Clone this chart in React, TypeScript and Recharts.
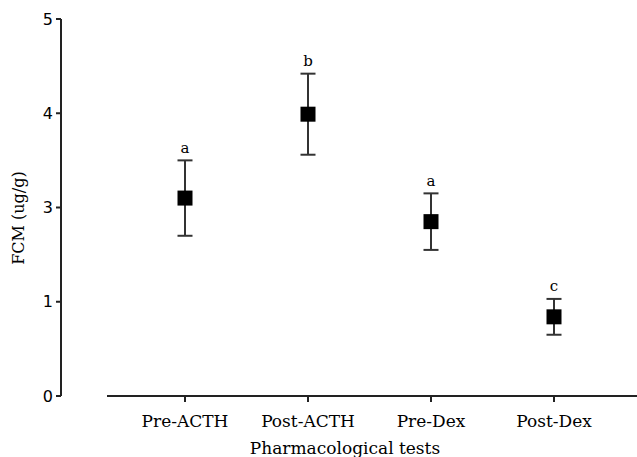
import React from "react";
import {
  ComposedChart,
  Scatter,
  XAxis,
  YAxis,
  ErrorBar,
  LabelList,
  Label,
} from "recharts";

const categories = ["Pre-ACTH", "Post-ACTH", "Pre-Dex", "Post-Dex"];
// values in plotted axis units (axis ticks are printed as 0,1,3,4,5)
const means = [2.1, 2.99, 1.85, 0.84];
const errors = [0.4, 0.43, 0.3, 0.19];
const letters = ["a", "b", "a", "c"];
const yTicks = [0, 1, 2, 3, 4];
const yTickLabels = ["0", "1", "3", "4", "5"];

const data = categories.map((c, i) => ({
  name: c,
  mean: means[i],
  err: errors[i],
  top: means[i] + errors[i],
  letter: letters[i],
}));

const SquareShape = (props: any) => {
  const { cx, cy } = props;
  if (cx == null || cy == null) return <g />;
  return <rect x={cx - 7.5} y={cy - 7.5} width={15} height={15} fill="#000" />;
};

const Empty = () => <g />;

export default function App() {
  return (
    <div style={{ position: "absolute", left: 0, top: 0, background: "#fff" }}>
      <ComposedChart
        width={637}
        height={457}
        data={data}
        margin={{ top: 19, right: 0, bottom: 0, left: 0 }}
      >
        <XAxis
          dataKey="name"
          type="category"
          height={61}
          interval={0}
          padding={{ left: 124, right: 83 }}
          axisLine={{ stroke: "#222", strokeWidth: 2, strokeDasharray: "0 46 1000" }}
          tickLine={{ stroke: "#222", strokeWidth: 2 }}
          tickSize={6}
          tickMargin={13}
          tick={{ fontFamily: "DejaVu Serif", fontSize: 17, fill: "#000" }}
        >
          <Label
            content={() => (
              <text
                x={345}
                y={454}
                textAnchor="middle"
                fontFamily="DejaVu Serif"
                fontSize={17}
                fill="#000"
              >
                Pharmacological tests
              </text>
            )}
          />
        </XAxis>
        <YAxis
          type="number"
          domain={[0, 4]}
          ticks={yTicks}
          width={61}
          tickSize={5}
          tickMargin={3}
          tickFormatter={(v: number) => yTickLabels[yTicks.indexOf(v)]}
          axisLine={{ stroke: "#222", strokeWidth: 2 }}
          tickLine={{ stroke: "#222", strokeWidth: 2 }}
          tick={{ fontFamily: "DejaVu Sans", fontSize: 16, fill: "#000" }}
        >
          <Label
            content={() => (
              <text
                x={24}
                y={218}
                transform="rotate(-90 24 218)"
                textAnchor="middle"
                fontFamily="DejaVu Serif"
                fontSize={16}
                fill="#000"
              >
                FCM (ug/g)
              </text>
            )}
          />
        </YAxis>
        <Scatter dataKey="mean" shape={SquareShape} isAnimationActive={false}>
          <ErrorBar
            dataKey="err"
            direction="y"
            width={7.5}
            stroke="#333"
            strokeWidth={2}
            isAnimationActive={false}
          />
        </Scatter>
        <Scatter dataKey="top" shape={Empty} isAnimationActive={false}>
          <LabelList
            dataKey="letter"
            position="top"
            offset={3}
            fontFamily="DejaVu Serif"
            fontSize={15}
            fill="#000"
          />
        </Scatter>
      </ComposedChart>
    </div>
  );
}
